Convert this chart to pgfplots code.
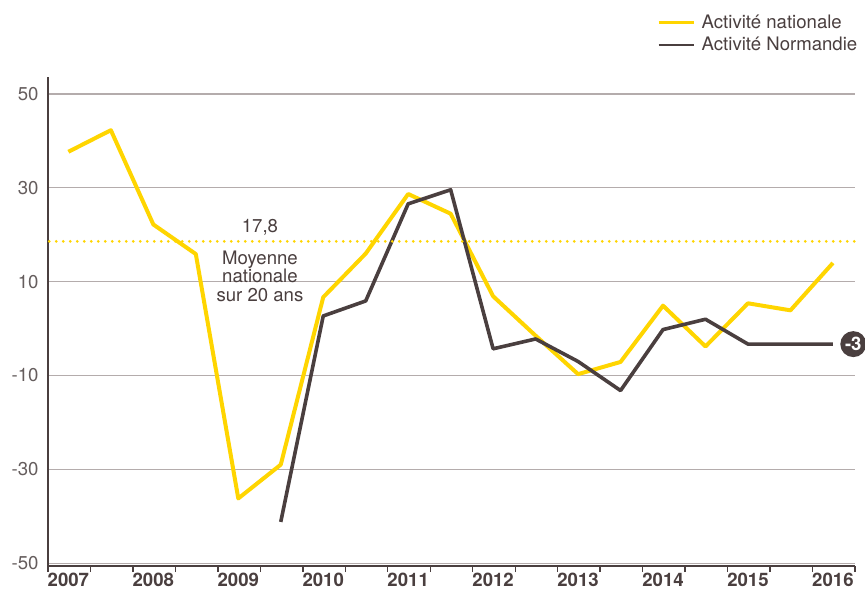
\documentclass[border=0pt]{standalone}
\usepackage{fontspec}
\setmainfont{TeX Gyre Heros}
\usepackage{pgfplots}
\pgfplotsset{compat=1.18}
\definecolor{jaune}{HTML}{FFD500}
\definecolor{brun}{HTML}{4A3F3F}
\definecolor{grille}{HTML}{B4ACAC}
\definecolor{gristxt}{HTML}{655D5D}
\begin{document}
\begin{tikzpicture}
\path[use as bounding box] (-24pt,-12pt) rectangle (408.5pt,283pt);
\begin{axis}[
  anchor=south west, at={(0pt,0pt)},
  scale only axis, width=403.5pt, height=244.65pt,
  xmin=-0.48, xmax=18.52, ymin=-50.6, ymax=53.7,
  axis x line*=bottom, axis y line*=left,
  axis line style={brun, line width=0.8pt, -},
  ytick={-50,-30,-10,10,30,50},
  ymajorgrids, grid style={grille, line width=0.6pt},
  xtick={0,2,4,6,8,10,12,14,16,18},
  xticklabels={2007,2008,2009,2010,2011,2012,2013,2014,2015,2016},
  minor xtick={-0.48,0.52,1.52,2.52,3.52,4.52,5.52,6.52,7.52,8.52,9.52,10.52,11.52,12.52,13.52,14.52,15.52,16.52,17.52,18.52},
  major tick length=0pt, minor tick length=3pt, tick align=outside,
  minor tick style={brun, line width=0.7pt},
  /pgf/number format/assume math mode=true,
  yticklabel style={font=\fontsize{9.3}{11}\selectfont, text=gristxt, xshift=-1.2pt},
  xticklabel style={font=\fontsize{9.3}{11}\selectfont\bfseries, text=brun, yshift=0.2pt},
  clip=false,
  legend cell align=left,
  legend image code/.code={\draw[#1, line width=1.2pt] (0pt,-0.3pt) -- (17.5pt,-0.3pt);},
  legend style={draw=none, fill=none, at={(0.755,1.127)}, anchor=north west,
    inner sep=0pt, outer sep=0pt, column sep=3.5pt, row sep=3.7pt,
    font=\fontsize{9.3}{11}\selectfont, text=brun,
    nodes={inner sep=0pt, text height=7pt, text depth=0.5pt}},
]
\addplot[jaune, line width=2pt, line join=round] coordinates {
(0,37.7) (1,42.3) (2,22.2) (3,15.9) (4,-36.2) (5,-29.0) (6,6.7) (7,16.0)
(8,28.7) (9,24.5) (10,6.9) (11,-1.5) (12,-9.7) (13,-7.1) (14,4.9) (15,-3.8)
(16,5.4) (17,3.9) (18,14.0)};
\addplot[brun, line width=1.8pt, line join=round] coordinates {
(5,-41.2) (6,2.7) (7,5.9) (8,26.6) (9,29.6) (10,-4.3) (11,-2.2) (12,-7.0)
(13,-13.2) (14,-0.2) (15,2.0) (16,-3.3) (17,-3.3) (18,-3.3)};
\addplot[jaune, line width=1.5pt, line cap=round, dash pattern=on 0pt off 3.5pt, forget plot] coordinates {(-0.45,18.6) (18.52,18.6)};
\legend{Activité nationale, Activité Normandie}
\node[font=\fontsize{9.3}{11}\selectfont, text=brun, anchor=base] at (axis cs:4.51,20.45) {17,8};
\node[font=\fontsize{9.3}{9.25}\selectfont, align=center, anchor=north, inner sep=0pt, text=brun] at (axis cs:4.51,16.74) {Moyenne\\nationale\\sur 20 ans};
\node[circle, fill=brun, minimum size=13pt, inner sep=0pt, text=white, font=\fontsize{9.3}{11}\selectfont\bfseries] at (axis cs:18.48,-3.3) {-3};
\end{axis}
\end{tikzpicture}
\end{document}
